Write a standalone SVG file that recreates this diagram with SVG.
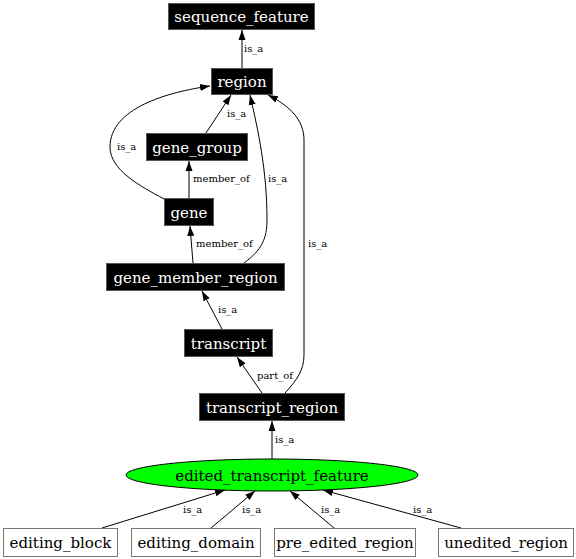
<svg xmlns="http://www.w3.org/2000/svg" width="576" height="559" viewBox="0 0 576 559">
<defs>
<marker id="arr" viewBox="0 0 10 10" refX="10" refY="5" markerWidth="10" markerHeight="10" markerUnits="userSpaceOnUse" orient="auto">
<path d="M0,1.5 L10,5 L0,8.5 Z" fill="#000"/>
</marker>
<style>
.dk rect{fill:#000;stroke:#555;stroke-width:1}
.dk text{fill:#fff}
.lt rect{fill:#fff;stroke:#777;stroke-width:1}
.nl{font-family:"DejaVu Serif",serif;font-size:15px;text-anchor:middle}
.edges path{fill:none;stroke:#000;stroke-width:1;marker-end:url(#arr)}
.el{font-family:"DejaVu Serif",serif;font-size:10px;fill:#000}
</style>
</defs>
<rect width="576" height="559" fill="#fff"/>
<g id="connectors" class="edges">
<path d="M242,68 L242,30"/>
<path d="M206,133 L231,95"/>
<path d="M164,199 C140,186 110,170 110,147 C110,108 168,92 210,86"/>
<path d="M189,198 L189,161"/>
<path d="M193,263 L190,226"/>
<path d="M244,263 C262,250 267,238 267,220 C267,170 258,130 250,95"/>
<path d="M285,393 C297,380 304,370 304,355 L304,140 C304,120 290,106 268,95"/>
<path d="M222,329 L202,291"/>
<path d="M262,393 L237,357"/>
<path d="M272,459 L272,421"/>
<path d="M102,528 L225,490"/>
<path d="M211,528 L255,491"/>
<path d="M334,528 L290,491"/>
<path d="M461,528 L323,490"/>
<text class="el" x="244" y="52">is_a</text>
<text class="el" x="227" y="117">is_a</text>
<text class="el" x="117" y="150">is_a</text>
<text class="el" x="193" y="182">member_of</text>
<text class="el" x="268" y="182">is_a</text>
<text class="el" x="196" y="247">member_of</text>
<text class="el" x="308" y="247">is_a</text>
<text class="el" x="218" y="313">is_a</text>
<text class="el" x="257" y="379">part_of</text>
<text class="el" x="275" y="443">is_a</text>
<text class="el" x="183" y="513">is_a</text>
<text class="el" x="242" y="513">is_a</text>
<text class="el" x="321" y="513">is_a</text>
<text class="el" x="413" y="513">is_a</text>
</g>
<g id="sequence_feature" class="dk"><rect x="168.5" y="3.5" width="146" height="26"/><text class="nl" x="241.5" y="22">sequence_feature</text></g>
<g id="region" class="dk"><rect x="211.5" y="68.5" width="61" height="26"/><text class="nl" x="242" y="87">region</text></g>
<g id="gene_group" class="dk"><rect x="146.5" y="133.5" width="101" height="27"/><text class="nl" x="197" y="152.5">gene_group</text></g>
<g id="gene" class="dk"><rect x="164.5" y="198.5" width="49" height="27"/><text class="nl" x="189" y="217.5">gene</text></g>
<g id="gene_member_region" class="dk"><rect x="106.5" y="263.5" width="178" height="27"/><text class="nl" x="195.5" y="282.5">gene_member_region</text></g>
<g id="transcript" class="dk"><rect x="184.5" y="329.5" width="88" height="27"/><text class="nl" x="228.5" y="348.5">transcript</text></g>
<g id="transcript_region" class="dk"><rect x="199.5" y="393.5" width="145" height="27"/><text class="nl" x="272" y="412.5">transcript_region</text></g>
<g id="edited_transcript_feature"><ellipse cx="272" cy="475" rx="146" ry="16" fill="#00ff00" stroke="#000"/><text class="nl" x="272" y="480.5">edited_transcript_feature</text></g>
<g id="editing_block" class="lt"><rect x="3.5" y="528.5" width="114" height="28"/><text class="nl" x="60.5" y="548">editing_block</text></g>
<g id="editing_domain" class="lt"><rect x="131.5" y="528.5" width="129" height="28"/><text class="nl" x="196" y="548">editing_domain</text></g>
<g id="pre_edited_region" class="lt"><rect x="274.5" y="528.5" width="141" height="28"/><text class="nl" x="345" y="548">pre_edited_region</text></g>
<g id="unedited_region" class="lt"><rect x="438.5" y="528.5" width="135" height="28"/><text class="nl" x="506" y="548">unedited_region</text></g>
</svg>
